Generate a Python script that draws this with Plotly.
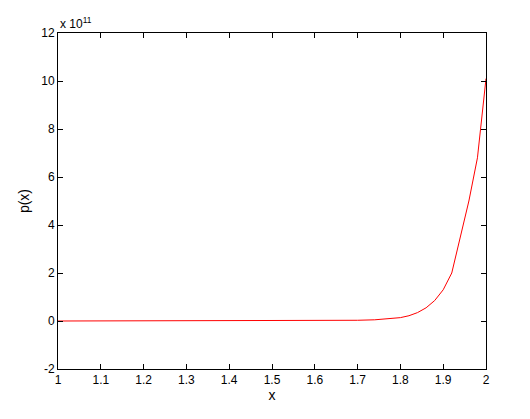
import plotly.graph_objects as go

x = [1.0, 1.2, 1.4, 1.6, 1.66, 1.7, 1.74, 1.78, 1.8, 1.82, 1.84, 1.86, 1.88, 1.9, 1.92, 1.94, 1.96, 1.98, 2.0]
p = [0, 0, 0, 0.002, 0.01, 0.03, 0.05, 0.09, 0.14, 0.22, 0.35, 0.55, 0.85, 1.3, 2.0, 3.5, 5.0, 6.8, 10.1]
p = [v * 1e11 for v in p]

fig = go.Figure(go.Scatter(x=x, y=p, mode="lines", line=dict(color="red", width=1)))
ax = dict(showline=True, mirror="ticks", linecolor="black", linewidth=1, ticks="inside",
          ticklen=5, tickcolor="black", showgrid=False, zeroline=False)
fig.update_xaxes(range=[1, 2], dtick=0.1, title=dict(text="x", standoff=2), **ax)
fig.update_yaxes(range=[-2e11, 12e11], tickvals=[i * 1e11 for i in range(-2, 13, 2)],
                 ticktext=[str(i) for i in range(-2, 13, 2)], title=dict(text="p(x)", standoff=8), **ax)
fig.add_annotation(text="x 10<sup>11</sup>", xref="paper", yref="paper", x=0, y=1,
                   xanchor="left", yanchor="bottom", showarrow=False, font=dict(size=12))
fig.update_layout(width=530, height=419, margin=dict(l=50, r=52, t=25, b=58),
                  plot_bgcolor="white", paper_bgcolor="white", showlegend=False,
                  font=dict(family="Liberation Sans, Arial", size=12, color="black"))
fig.write_html("out.html")
